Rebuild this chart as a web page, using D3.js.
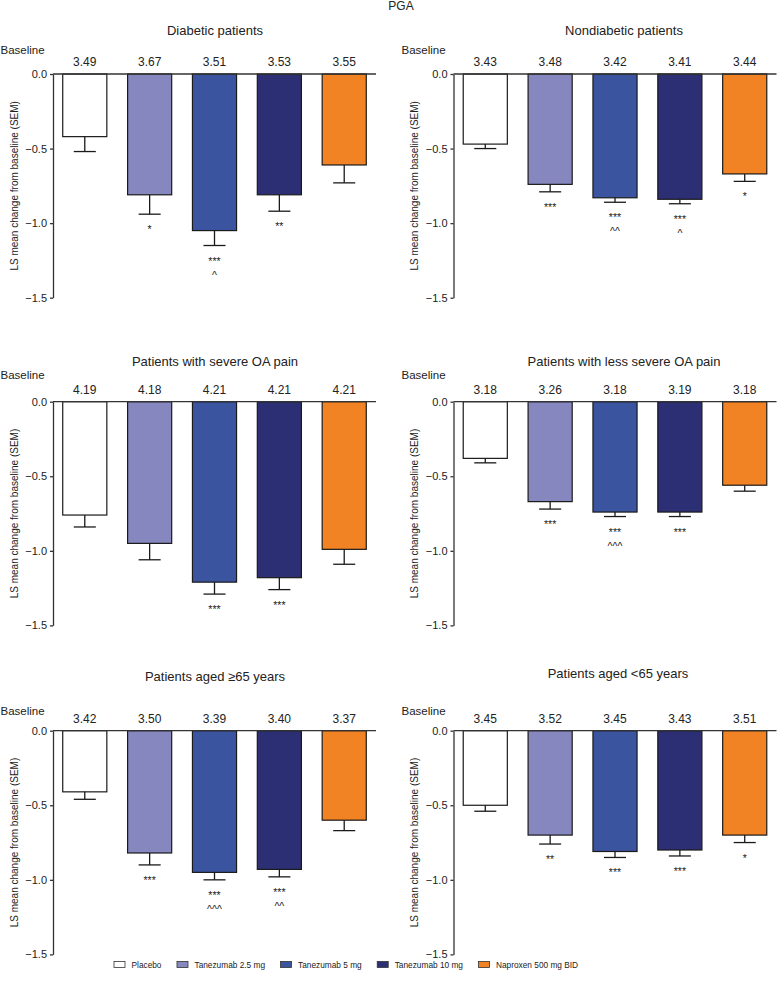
<!DOCTYPE html>
<html>
<head>
<meta charset="utf-8">
<script src="https://cdn.jsdelivr.net/npm/d3@7"></script>
<style>
  html, body { margin: 0; padding: 0; background: #fff; }
  svg { display: block; font-family: "Liberation Sans", Arial, Helvetica, sans-serif; }
</style>
</head>
<body>
<svg id="chart" width="780" height="989"></svg>
<script>
// ---------------- DATA ----------------
const groups = ["Placebo", "Tanezumab 2.5 mg", "Tanezumab 5 mg", "Tanezumab 10 mg", "Naproxen 500 mg BID"];
const chartTitle = "PGA";
const panelTitles = [
  "Diabetic patients",
  "Nondiabetic patients",
  "Patients with severe OA pain",
  "Patients with less severe OA pain",
  "Patients aged \u226565 years",
  "Patients aged <65 years"
];
const baselineLabel = "Baseline";
const yAxisLabel = "LS mean change from baseline (SEM)";
const yTicks = [0, -0.5, -1.0, -1.5];

const baselineValues = [
  ["3.49", "3.67", "3.51", "3.53", "3.55"],
  ["3.43", "3.48", "3.42", "3.41", "3.44"],
  ["4.19", "4.18", "4.21", "4.21", "4.21"],
  ["3.18", "3.26", "3.18", "3.19", "3.18"],
  ["3.42", "3.50", "3.39", "3.40", "3.37"],
  ["3.45", "3.52", "3.45", "3.43", "3.51"]
];
const lsMeans = [
  [-0.42, -0.81, -1.05, -0.81, -0.61],
  [-0.47, -0.74, -0.83, -0.84, -0.67],
  [-0.76, -0.95, -1.21, -1.18, -0.99],
  [-0.38, -0.67, -0.74, -0.74, -0.56],
  [-0.41, -0.82, -0.95, -0.93, -0.60],
  [-0.50, -0.70, -0.81, -0.80, -0.70]
];
const sem = [
  [0.10, 0.13, 0.10, 0.11, 0.12],
  [0.03, 0.05, 0.03, 0.03, 0.05],
  [0.08, 0.11, 0.08, 0.08, 0.10],
  [0.03, 0.05, 0.03, 0.03, 0.04],
  [0.05, 0.08, 0.05, 0.05, 0.07],
  [0.04, 0.06, 0.04, 0.04, 0.05]
];
const vsPlacebo = [
  ["", "*", "***", "**", ""],
  ["", "***", "***", "***", "*"],
  ["", "", "***", "***", ""],
  ["", "***", "***", "***", ""],
  ["", "***", "***", "***", ""],
  ["", "**", "***", "***", "*"]
];
const vsNaproxen = [
  ["", "", "^", "", ""],
  ["", "", "^^", "^", ""],
  ["", "", "", "", ""],
  ["", "", "^^^", "", ""],
  ["", "", "^^^", "^^", ""],
  ["", "", "", "", ""]
];

// ---------------- STYLE / LAYOUT ----------------
const colors = ["#ffffff", "#8787bf", "#3a54a0", "#2c2f73", "#f28324"];
const axisColor = "#333";
const textColor = "#222";
const plotW = 323, plotH = 223.7;
const layout = [
  { ax: 53,    zeroY: 74,    titleX: 215, titleY: 34.5,  baseLabX: 0.5,   baseLabY: 53.5,  baseValY: 66 },
  { ax: 453.5, zeroY: 74,    titleX: 624, titleY: 34.5,  baseLabX: 401.5, baseLabY: 53.5,  baseValY: 66 },
  { ax: 53,    zeroY: 401.7, titleX: 215, titleY: 366,   baseLabX: 0.5,   baseLabY: 378.5, baseValY: 394 },
  { ax: 453.5, zeroY: 401.7, titleX: 624, titleY: 366,   baseLabX: 401.5, baseLabY: 378.5, baseValY: 394 },
  { ax: 53,    zeroY: 730.7, titleX: 215, titleY: 680.5, baseLabX: 0.5,   baseLabY: 715,   baseValY: 722.5 },
  { ax: 453.5, zeroY: 730.7, titleX: 618, titleY: 677.5, baseLabX: 401.5, baseLabY: 715,   baseValY: 722.5 }
];

const svg = d3.select("#chart");

svg.append("text")
  .attr("x", 401).attr("y", 9.5)
  .attr("text-anchor", "middle")
  .attr("font-size", 12).attr("fill", textColor)
  .text(chartTitle);

panelTitles.forEach((title, p) => {
  const L = layout[p];
  const g = svg.append("g");
  const x = d3.scaleBand().domain(groups).range([L.ax, L.ax + plotW]).paddingInner(0.32).paddingOuter(0.15);
  const y = d3.scaleLinear().domain([-1.5, 0]).range([L.zeroY + plotH, L.zeroY]);

  // title
  g.append("text").attr("x", L.titleX).attr("y", L.titleY)
    .attr("text-anchor", "middle").attr("font-size", 13).attr("fill", textColor)
    .text(title);
  // baseline label
  g.append("text").attr("x", L.baseLabX).attr("y", L.baseLabY)
    .attr("font-size", 11.5).attr("fill", textColor).text(baselineLabel);
  // baseline values
  g.selectAll("text.bv").data(groups).enter().append("text")
    .attr("class", "bv")
    .attr("x", d => x(d) + x.bandwidth() / 2)
    .attr("y", L.baseValY)
    .attr("text-anchor", "middle").attr("font-size", 12).attr("fill", textColor)
    .text((d, i) => baselineValues[p][i]);

  // bars
  g.selectAll("rect.bar").data(groups).enter().append("rect")
    .attr("class", "bar")
    .attr("x", d => x(d))
    .attr("y", y(0))
    .attr("width", x.bandwidth())
    .attr("height", (d, i) => y(lsMeans[p][i]) - y(0))
    .attr("fill", (d, i) => colors[i])
    .attr("stroke", "#1a1a1a").attr("stroke-width", 1.2);

  // error bars
  groups.forEach((d, i) => {
    const cx = x(d) + x.bandwidth() / 2;
    const y1 = y(lsMeans[p][i]);
    const y2 = y(lsMeans[p][i] - sem[p][i]);
    const cap = x.bandwidth() / 4;
    g.append("line").attr("x1", cx).attr("x2", cx).attr("y1", y1).attr("y2", y2)
      .attr("stroke", "#1a1a1a").attr("stroke-width", 1.3);
    g.append("line").attr("x1", cx - cap).attr("x2", cx + cap).attr("y1", y2).attr("y2", y2)
      .attr("stroke", "#1a1a1a").attr("stroke-width", 1.3);
    if (vsPlacebo[p][i]) {
      g.append("text").attr("x", cx).attr("y", y2 + 19)
        .attr("text-anchor", "middle").attr("font-size", 10.5).attr("fill", textColor)
        .text(vsPlacebo[p][i]);
    }
    if (vsNaproxen[p][i]) {
      g.append("text").attr("x", cx).attr("y", y2 + 33)
        .attr("text-anchor", "middle").attr("font-size", 10.5).attr("fill", textColor)
        .text(vsNaproxen[p][i]);
    }
  });

  // y axis
  const yAxis = d3.axisLeft(y).tickValues(yTicks)
    .tickFormat(d => d === 0 ? "0.0" : d3.format(".1f")(d))
    .tickSize(3).tickSizeOuter(0).tickPadding(3);
  const ag = g.append("g").attr("transform", `translate(${L.ax},0)`).call(yAxis);
  ag.select(".domain").attr("stroke", axisColor).attr("stroke-width", 1.3);
  ag.selectAll(".tick line").attr("stroke", axisColor).attr("stroke-width", 1.3);
  ag.selectAll(".tick text").attr("font-size", 11).attr("fill", textColor)
    .attr("font-family", "'Liberation Sans', Arial, sans-serif");

  // zero line
  g.append("line").attr("x1", L.ax).attr("x2", L.ax + plotW)
    .attr("y1", y(0)).attr("y2", y(0))
    .attr("stroke", axisColor).attr("stroke-width", 1.3);

  // y label
  g.append("text")
    .attr("transform", `translate(${L.ax - 39},${(y(0) + y(-1.5)) / 2}) rotate(-90)`)
    .attr("text-anchor", "middle").attr("dominant-baseline", "central")
    .attr("font-size", 10).attr("fill", textColor)
    .text(yAxisLabel);
});

// legend
const lg = svg.append("g");
let lx = 114;
const ly = 964.5;
groups.forEach((d, i) => {
  lg.append("rect").attr("x", lx).attr("y", ly - 3).attr("width", 11).attr("height", 6)
    .attr("fill", colors[i]).attr("stroke", "#333").attr("stroke-width", 0.8);
  const t = lg.append("text").attr("x", lx + 17.5).attr("y", ly + 3.2)
    .attr("font-size", 8.3).attr("fill", textColor).text(d);
  lx = lx + 17.5 + t.node().getComputedTextLength() + 15.5;
});
</script>
</body>
</html>
